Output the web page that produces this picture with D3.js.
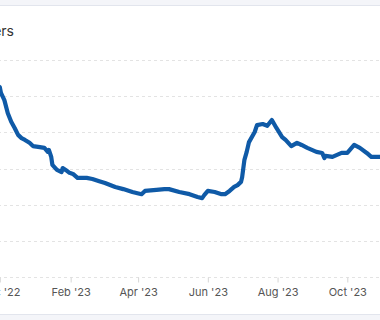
<!DOCTYPE html>
<html>
<head>
<meta charset="utf-8">
<script src="https://cdn.jsdelivr.net/npm/d3@7"></script>
<style>
  html, body { margin: 0; padding: 0; background: #fff; overflow: hidden; }
  svg { display: block; font-family: Inter, "Noto Sans", sans-serif; }
</style>
</head>
<body>
<svg id="chart" width="380" height="320"></svg>
<script>
// series
const dates = [
  "2022-11-27","2022-12-01","2022-12-02","2022-12-05","2022-12-08","2022-12-11","2022-12-14",
  "2022-12-17","2022-12-20","2022-12-23","2022-12-27","2022-12-30","2023-01-05","2023-01-09",
  "2023-01-12","2023-01-13","2023-01-15","2023-01-16","2023-01-20","2023-01-24","2023-01-25",
  "2023-01-29","2023-01-31","2023-02-03","2023-02-07","2023-02-11","2023-02-15","2023-02-20",
  "2023-02-26","2023-03-03","2023-03-12","2023-03-19","2023-03-27","2023-04-04","2023-04-07",
  "2023-04-17","2023-04-24","2023-04-28","2023-05-07","2023-05-16","2023-05-23","2023-05-27",
  "2023-05-29","2023-06-01","2023-06-07","2023-06-13","2023-06-16","2023-06-20","2023-06-24",
  "2023-06-27","2023-06-30","2023-07-01","2023-07-03","2023-07-05","2023-07-07","2023-07-12",
  "2023-07-14","2023-07-19","2023-07-23","2023-07-27","2023-07-31","2023-08-05","2023-08-08",
  "2023-08-13","2023-08-18","2023-08-22","2023-08-27","2023-09-04","2023-09-09","2023-09-11",
  "2023-09-12","2023-09-18","2023-09-26","2023-10-01","2023-10-07","2023-10-12","2023-10-18",
  "2023-10-22","2023-10-29","2023-11-07"
];
const values = [
  534,525,509,489,453,429,412,
  393,384,379,371,362,359,357,
  346,351,332,310,296,290,301,
  293,288,285,274,274,274,271,
  265,260,249,243,235,229,238,
  241,243,243,235,229,221,218,
  227,238,235,229,229,238,249,
  254,263,276,324,346,373,401,
  420,423,418,434,412,387,379,
  362,371,365,357,346,343,329,
  335,332,343,343,365,357,343,
  332,332,332
];

// axes
const tickDates = ["2022-12-01","2023-02-01","2023-04-01","2023-06-01","2023-08-01","2023-10-01"];
const yTicks = [0, 100, 200, 300, 400, 500, 600];
const title = "Users";

const parse = d3.timeParse("%Y-%m-%d");
const data = dates.map((d, i) => ({ date: parse(d), value: values[i] }));

const svg = d3.select("#chart");

// card frame
svg.append("rect").attr("x", 0).attr("y", 0).attr("width", 380).attr("height", 5).attr("fill", "#f4f5f9");
svg.append("line").attr("x1", 0).attr("x2", 380).attr("y1", 5.5).attr("y2", 5.5).attr("stroke", "#e2e5ed");
svg.append("rect").attr("x", 0).attr("y", 315).attr("width", 380).attr("height", 5).attr("fill", "#f4f5f9");
svg.append("line").attr("x1", 0).attr("x2", 380).attr("y1", 314.5).attr("y2", 314.5).attr("stroke", "#e2e5ed");

svg.append("text")
    .attr("x", 14)
    .attr("y", 36)
    .attr("text-anchor", "end")
    .attr("fill", "#333")
    .style("font-size", "14px")
    .text(title);

const x = d3.scaleTime()
    .domain([parse(tickDates[0]), parse(tickDates[tickDates.length - 1])])
    .range([-0.2, 347.3]);
const y = d3.scaleLinear()
    .domain([0, 600])
    .range([277, 60]);

// grid
svg.append("g")
  .selectAll("line")
  .data(yTicks)
  .join("line")
    .attr("x1", -20)
    .attr("x2", 400)
    .attr("y1", d => Math.round(y(d)) + 0.5)
    .attr("y2", d => Math.round(y(d)) + 0.5)
    .attr("stroke", "#e3e3e3")
    .attr("stroke-dasharray", "3,3");

// x axis
const xAxis = svg.append("g")
    .attr("transform", "translate(0,277.5)")
    .call(d3.axisBottom(x)
      .tickValues(tickDates.map(parse))
      .tickFormat(d3.timeFormat("%b '%y"))
      .tickSize(5)
      .tickPadding(6));
xAxis.select(".domain").remove();
xAxis.selectAll(".tick line").attr("stroke", "#d6d6d6");
xAxis.selectAll(".tick text")
    .attr("fill", "#555")
    .style("font-size", "11px")
    .style("font-family", "Inter, 'Noto Sans', sans-serif");

const line = d3.line()
    .x(d => x(d.date))
    .y(d => y(d.value));

svg.append("path")
    .datum(data)
    .attr("fill", "none")
    .attr("stroke", "#0f5aa7")
    .attr("stroke-width", 4.2)
    .attr("stroke-linejoin", "round")
    .attr("stroke-linecap", "round")
    .attr("d", line);
</script>
</body>
</html>
